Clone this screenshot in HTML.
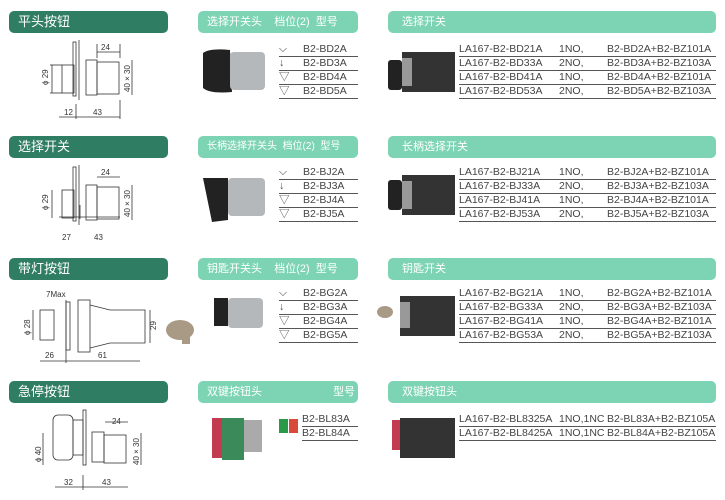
<!DOCTYPE html>
<html><head><meta charset="utf-8"><style>
body{margin:0;width:725px;height:500px;background:#fff;position:relative;overflow:hidden;font-family:"Liberation Sans","Noto Sans CJK SC",sans-serif;}
.h{position:absolute;height:22px;border-radius:5px;color:#fff;font-size:13px;line-height:22px;padding-left:9px;box-sizing:border-box;white-space:nowrap}
.d{background:#2f7d62;left:9px;width:159px}
.l{background:#7dd4b4;font-size:11px}
.m{left:198px;width:160px}
.r{left:388px;width:328px;padding-left:14px}
.t{position:absolute;font-size:10.5px;color:#444;line-height:13px;white-space:nowrap}
.row{border-bottom:1px solid #555;height:13px;position:relative}
.row span{position:absolute}
svg{position:absolute;left:0;top:0}
</style></head><body>
<svg width="725" height="500" stroke="#333" fill="none" stroke-width="0.8" font-family="Liberation Sans" font-size="8">
<g>
<rect x="62" y="65" width="12" height="28"/><rect x="73" y="42" width="3" height="54"/><line x1="79" y1="40" x2="79" y2="100"/>
<rect x="86" y="60" width="11" height="35"/><rect x="97" y="62" width="22" height="32"/>
<line x1="50" y1="65" x2="62" y2="65"/><line x1="50" y1="93" x2="62" y2="93"/><line x1="52" y1="65" x2="52" y2="93"/>
<line x1="132" y1="60" x2="132" y2="95"/><line x1="97" y1="52" x2="120" y2="52"/><line x1="97" y1="44" x2="97" y2="58"/><line x1="120" y1="44" x2="120" y2="58"/>
<line x1="59" y1="117" x2="120" y2="117"/><line x1="76" y1="104" x2="76" y2="119"/><line x1="120" y1="100" x2="120" y2="119"/>
</g>
<g transform="translate(0,125)">
<rect x="62" y="65" width="12" height="28"/><rect x="73" y="42" width="3" height="54"/><line x1="79" y1="40" x2="79" y2="100"/>
<rect x="86" y="60" width="11" height="35"/><rect x="97" y="62" width="22" height="32"/>
<line x1="52" y1="65" x2="52" y2="93"/><line x1="132" y1="60" x2="132" y2="95"/><line x1="97" y1="52" x2="120" y2="52"/>
<line x1="59" y1="92" x2="120" y2="92"/><line x1="80" y1="80" x2="80" y2="94"/>
</g>
<g>
<rect x="40" y="310" width="14" height="30"/><rect x="66" y="302" width="4" height="48"/><rect x="78" y="300" width="12" height="52"/>
<path d="M90 305 L110 310 L145 310 L145 343 L110 343 L90 348"/>
<line x1="33" y1="310" x2="33" y2="340"/><line x1="150" y1="310" x2="150" y2="343"/>
<line x1="40" y1="361" x2="140" y2="361"/><line x1="66" y1="300" x2="66" y2="363"/>
</g>
<g>
<rect x="53" y="415" width="20" height="45" rx="5"/><rect x="73" y="420" width="10" height="35"/><rect x="83" y="410" width="3" height="55"/>
<rect x="92" y="432" width="12" height="30"/><rect x="104" y="435" width="22" height="28"/>
<line x1="43" y1="433" x2="43" y2="465"/><line x1="141" y1="433" x2="141" y2="465"/>
<line x1="55" y1="487" x2="128" y2="487"/><line x1="83" y1="475" x2="83" y2="490"/><line x1="105" y1="422" x2="128" y2="422"/>
</g>
<g fill="#333" stroke="none">
<text x="101" y="50">24</text><text x="64" y="115">12</text><text x="93" y="115">43</text>
<text x="101" y="175">24</text><text x="62" y="240">27</text><text x="94" y="240">43</text>
<text x="46" y="297">7Max</text><text x="45" y="358">26</text><text x="98" y="358">61</text>
<text x="112" y="424">24</text><text x="64" y="485">32</text><text x="102" y="485">43</text>
<text transform="translate(48,85) rotate(-90)">ϕ 29</text><text transform="translate(130,92) rotate(-90)">40 × 30</text>
<text transform="translate(48,210) rotate(-90)">ϕ 29</text><text transform="translate(130,217) rotate(-90)">40 × 30</text>
<text transform="translate(30,335) rotate(-90)">ϕ 28</text><text transform="translate(156,330) rotate(-90)">29</text>
<text transform="translate(41,462) rotate(-90)">ϕ 40</text><text transform="translate(139,465) rotate(-90)">40 × 30</text>
</g>
<g stroke="none">
<path d="M203 53 Q210 48 230 50 L232 92 Q210 94 203 88Z" fill="#222"/><rect x="230" y="52" width="35" height="38" rx="4" fill="#b5b8ba"/>
<path d="M203 178 L228 178 L228 220 L212 222Z" fill="#222"/><rect x="228" y="178" width="37" height="38" rx="4" fill="#b5b8ba"/>
<rect x="214" y="298" width="14" height="28" fill="#222"/><rect x="228" y="298" width="35" height="30" rx="4" fill="#b5b8ba"/>
<ellipse cx="180" cy="330" rx="14" ry="10" fill="#a89a85"/><rect x="182" y="330" width="8" height="14" fill="#a89a85"/>
<rect x="212" y="418" width="20" height="40" fill="#c23b50"/><rect x="222" y="418" width="22" height="42" fill="#3a8a5a"/><rect x="244" y="420" width="18" height="32" fill="#aaa"/>
<rect x="279" y="419" width="9" height="14" fill="#2a9a4a"/><rect x="289" y="419" width="9" height="14" fill="#d84a3a"/>
<rect x="388" y="60" width="14" height="30" rx="3" fill="#222"/><rect x="402" y="52" width="53" height="40" fill="#333"/><rect x="402" y="58" width="10" height="28" fill="#999"/>
<rect x="388" y="180" width="14" height="30" rx="3" fill="#222"/><rect x="402" y="175" width="53" height="40" fill="#333"/><rect x="402" y="181" width="10" height="28" fill="#999"/>
<rect x="400" y="296" width="55" height="40" fill="#333"/><rect x="400" y="302" width="10" height="26" fill="#999"/><ellipse cx="385" cy="312" rx="8" ry="6" fill="#a89a85"/>
<rect x="392" y="420" width="12" height="30" fill="#c23b50"/><rect x="400" y="418" width="55" height="40" fill="#333"/>
</g>
</svg>

<div class="h d" style="top:11px">平头按钮</div>
<div class="h l m" style="top:11px">选择开关头 &nbsp; &nbsp;档位(2) &nbsp;型号</div>
<div class="h l r" style="top:11px">选择开关</div>
<div class="h d" style="top:136px">选择开关</div>
<div class="h l m" style="top:136px;font-size:10px">长柄选择开关头 &nbsp;档位(2) &nbsp;型号</div>
<div class="h l r" style="top:136px">长柄选择开关</div>
<div class="h d" style="top:258px">带灯按钮</div>
<div class="h l m" style="top:258px">钥匙开关头 &nbsp; &nbsp;档位(2) &nbsp;型号</div>
<div class="h l r" style="top:258px">钥匙开关</div>
<div class="h d" style="top:381px">急停按钮</div>
<div class="h l m" style="top:381px">双键按钮头 <span style="margin-left:68px">型号</span></div>
<div class="h l r" style="top:381px">双键按钮头</div>

<div class="t" style="left:279px;top:43px;width:79px">
<div class="row"><span>⌵</span><span style="left:24px">B2-BD2A</span></div>
<div class="row"><span>↓</span><span style="left:24px">B2-BD3A</span></div>
<div class="row"><span>▽</span><span style="left:24px">B2-BD4A</span></div>
<div class="row"><span>▽</span><span style="left:24px">B2-BD5A</span></div></div>
<div class="t" style="left:279px;top:166px;width:79px">
<div class="row"><span>⌵</span><span style="left:24px">B2-BJ2A</span></div>
<div class="row"><span>↓</span><span style="left:24px">B2-BJ3A</span></div>
<div class="row"><span>▽</span><span style="left:24px">B2-BJ4A</span></div>
<div class="row"><span>▽</span><span style="left:24px">B2-BJ5A</span></div></div>
<div class="t" style="left:279px;top:287px;width:79px">
<div class="row"><span>⌵</span><span style="left:24px">B2-BG2A</span></div>
<div class="row"><span>↓</span><span style="left:24px">B2-BG3A</span></div>
<div class="row"><span>▽</span><span style="left:24px">B2-BG4A</span></div>
<div class="row"><span>▽</span><span style="left:24px">B2-BG5A</span></div></div>
<div class="t" style="left:302px;top:413px;width:56px">
<div class="row"><span>B2-BL83A</span></div>
<div class="row"><span>B2-BL84A</span></div></div>

<div class="t" style="left:459px;top:43px;width:257px">
<div class="row"><span>LA167-B2-BD21A</span><span style="left:100px">1NO,</span><span style="left:148px">B2-BD2A+B2-BZ101A</span></div>
<div class="row"><span>LA167-B2-BD33A</span><span style="left:100px">2NO,</span><span style="left:148px">B2-BD3A+B2-BZ103A</span></div>
<div class="row"><span>LA167-B2-BD41A</span><span style="left:100px">1NO,</span><span style="left:148px">B2-BD4A+B2-BZ101A</span></div>
<div class="row"><span>LA167-B2-BD53A</span><span style="left:100px">2NO,</span><span style="left:148px">B2-BD5A+B2-BZ103A</span></div></div>
<div class="t" style="left:459px;top:166px;width:257px">
<div class="row"><span>LA167-B2-BJ21A</span><span style="left:100px">1NO,</span><span style="left:148px">B2-BJ2A+B2-BZ101A</span></div>
<div class="row"><span>LA167-B2-BJ33A</span><span style="left:100px">2NO,</span><span style="left:148px">B2-BJ3A+B2-BZ103A</span></div>
<div class="row"><span>LA167-B2-BJ41A</span><span style="left:100px">1NO,</span><span style="left:148px">B2-BJ4A+B2-BZ101A</span></div>
<div class="row"><span>LA167-B2-BJ53A</span><span style="left:100px">2NO,</span><span style="left:148px">B2-BJ5A+B2-BZ103A</span></div></div>
<div class="t" style="left:459px;top:287px;width:257px">
<div class="row"><span>LA167-B2-BG21A</span><span style="left:100px">1NO,</span><span style="left:148px">B2-BG2A+B2-BZ101A</span></div>
<div class="row"><span>LA167-B2-BG33A</span><span style="left:100px">2NO,</span><span style="left:148px">B2-BG3A+B2-BZ103A</span></div>
<div class="row"><span>LA167-B2-BG41A</span><span style="left:100px">1NO,</span><span style="left:148px">B2-BG4A+B2-BZ101A</span></div>
<div class="row"><span>LA167-B2-BG53A</span><span style="left:100px">2NO,</span><span style="left:148px">B2-BG5A+B2-BZ103A</span></div></div>
<div class="t" style="left:459px;top:413px;width:257px">
<div class="row"><span>LA167-B2-BL8325A</span><span style="left:100px">1NO,1NC</span><span style="left:148px">B2-BL83A+B2-BZ105A</span></div>
<div class="row"><span>LA167-B2-BL8425A</span><span style="left:100px">1NO,1NC</span><span style="left:148px">B2-BL84A+B2-BZ105A</span></div></div>
</body></html>
